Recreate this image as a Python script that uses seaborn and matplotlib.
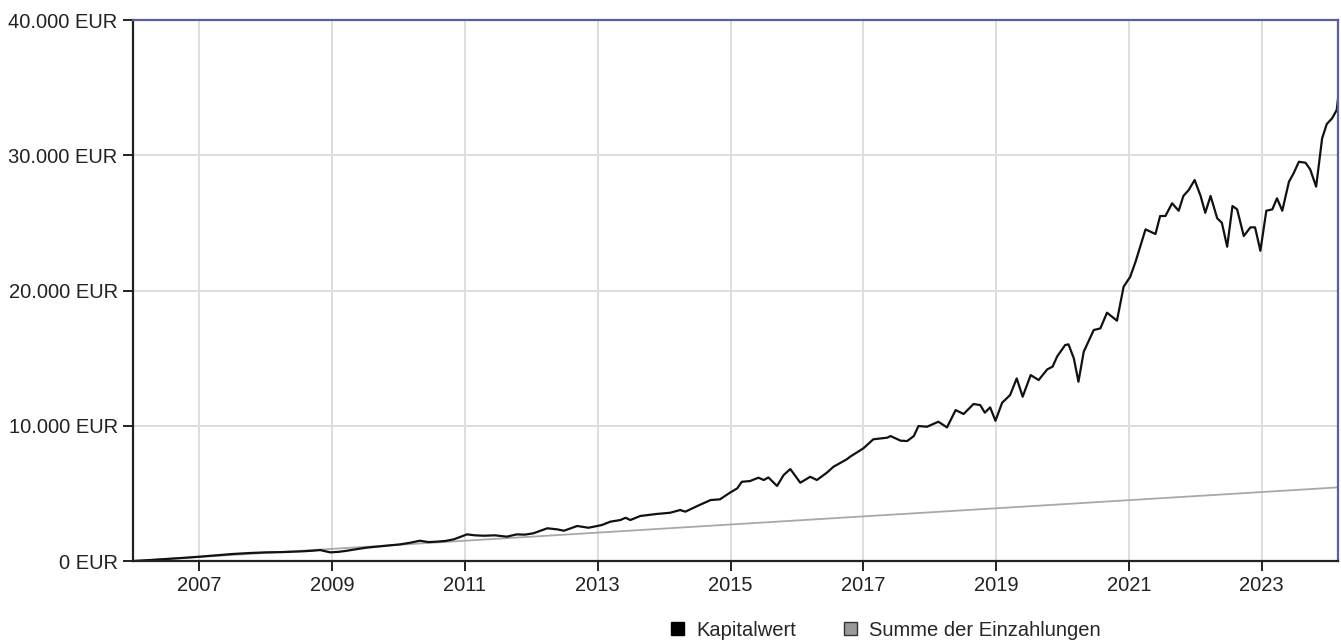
import matplotlib
matplotlib.use("Agg")
import matplotlib.pyplot as plt
from matplotlib.patches import Patch
import seaborn as sns
import pandas as pd

# Kapitalwert (decimal years / EUR)
kapital_years = [
    2006.00, 2006.25, 2006.50, 2006.75, 2007.00, 2007.25, 2007.50, 2007.75,
    2008.00, 2008.25, 2008.52, 2008.70, 2008.82, 2008.97, 2009.10, 2009.22,
    2009.37, 2009.52, 2009.75, 2010.02, 2010.15, 2010.32, 2010.45, 2010.57,
    2010.70, 2010.83, 2011.03, 2011.15, 2011.28, 2011.45, 2011.63, 2011.78,
    2011.90, 2012.03, 2012.24, 2012.39, 2012.49, 2012.69, 2012.86, 2013.06,
    2013.19, 2013.34, 2013.42, 2013.49, 2013.64, 2013.76, 2013.89, 2014.09,
    2014.24, 2014.32, 2014.50, 2014.70, 2014.84, 2014.99, 2015.10, 2015.17,
    2015.29, 2015.42, 2015.50, 2015.57, 2015.70, 2015.80, 2015.90, 2016.05,
    2016.20, 2016.30, 2016.45, 2016.55, 2016.75, 2016.80, 2017.00, 2017.15,
    2017.36, 2017.41, 2017.56, 2017.66, 2017.76, 2017.83, 2017.96, 2018.13,
    2018.26, 2018.39, 2018.51, 2018.66, 2018.76, 2018.83, 2018.91, 2018.99,
    2019.09, 2019.21, 2019.31, 2019.40, 2019.52, 2019.64, 2019.77, 2019.85,
    2019.92, 2020.04, 2020.09, 2020.17, 2020.24, 2020.32, 2020.47, 2020.57,
    2020.67, 2020.82, 2020.92, 2021.02, 2021.10, 2021.17, 2021.25, 2021.40,
    2021.47, 2021.55, 2021.65, 2021.75, 2021.82, 2021.90, 2021.99, 2022.08,
    2022.15, 2022.23, 2022.33, 2022.40, 2022.48, 2022.56, 2022.63, 2022.73,
    2022.83, 2022.90, 2022.98, 2023.07, 2023.16, 2023.23, 2023.31, 2023.41,
    2023.48, 2023.56, 2023.66, 2023.73, 2023.82, 2023.91, 2023.98, 2024.06,
    2024.13, 2024.15,
]
kapital_values = [
    0, 70, 150, 230, 320, 420, 520, 590,
    640, 660, 710, 760, 810, 640, 680, 760,
    880, 990, 1100, 1230, 1330, 1500, 1400, 1430,
    1480, 1600, 1970, 1900, 1870, 1900, 1800, 1970,
    1950, 2050, 2420, 2340, 2240, 2590, 2460, 2660,
    2910, 3030, 3200, 3030, 3330, 3400, 3480, 3570,
    3770, 3650, 4070, 4510, 4560, 5050, 5370, 5860,
    5910, 6160, 5990, 6180, 5550, 6360, 6800, 5790,
    6230, 5990, 6530, 6970, 7520, 7710, 8330, 9000,
    9120, 9240, 8900, 8870, 9240, 9980, 9930, 10300,
    9880, 11160, 10870, 11610, 11530, 10970, 11360, 10370,
    11700, 12270, 13500, 12150, 13750, 13380, 14170, 14370,
    15130, 15970, 16020, 14990, 13260, 15480, 17080, 17200,
    18360, 17770, 20280, 21020, 22130, 23240, 24520, 24180,
    25510, 25510, 26450, 25900, 26990, 27430, 28170, 26990,
    25750, 26990, 25340, 25010, 23240, 26250, 26000, 24030,
    24670, 24670, 22940, 25900, 26000, 26820, 25900, 28040,
    28660, 29520, 29450, 28960, 27680, 31250, 32310, 32730,
    33350, 34200,
]

# Summe der Einzahlungen
einzahl_years = [2006, 2007, 2008, 2009, 2010, 2011, 2012, 2013, 2014, 2015,
                 2016, 2017, 2018, 2019, 2020, 2021, 2022, 2023, 2024, 2024.15]
einzahl_values = [0, 300, 600, 900, 1200, 1500, 1800, 2100, 2400, 2700,
                  3000, 3300, 3600, 3900, 4200, 4500, 4800, 5100, 5400, 5450]

year_ticks = [2007, 2009, 2011, 2013, 2015, 2017, 2019, 2021, 2023]
value_ticks = [0, 10000, 20000, 30000, 40000]
value_labels = ["0 EUR", "10.000 EUR", "20.000 EUR", "30.000 EUR", "40.000 EUR"]

sns.set_theme(style="white")
plt.rcParams["font.family"] = ["Liberation Sans", "DejaVu Sans"]

kapital = pd.DataFrame({"jahr": kapital_years, "wert": kapital_values})
einzahl = pd.DataFrame({"jahr": einzahl_years, "wert": einzahl_values})

fig = plt.figure(figsize=(13.41, 6.4), dpi=100)
ax = fig.add_axes([0.0992, 0.1234, 0.8986, 0.8453])

sns.lineplot(data=einzahl, x="jahr", y="wert", ax=ax, color="#a8a8a8",
             linewidth=1.3, legend=False)
sns.lineplot(data=kapital, x="jahr", y="wert", ax=ax, color="#111111",
             linewidth=1.6, legend=False)

ax.set_xlim(2006.0, 2024.15)
ax.set_ylim(0, 40000)
ax.set_xticks(year_ticks)
ax.set_xticklabels([str(y) for y in year_ticks])
ax.set_yticks(value_ticks)
ax.set_yticklabels(value_labels)
ax.set_xlabel("")
ax.set_ylabel("")

ax.grid(True, color="#dddddd", linewidth=1.4)
ax.set_axisbelow(True)

for side in ["left", "bottom"]:
    ax.spines[side].set_color("#222222")
    ax.spines[side].set_linewidth(1.6)
for side in ["top", "right"]:
    ax.spines[side].set_color("#5a5f9c")
    ax.spines[side].set_linewidth(1.6)

ax.tick_params(axis="both", which="major", length=7, width=1.4,
               color="#222222", labelsize=14.5, labelcolor="#222222",
               bottom=True, left=True, pad=4)

handles = [
    Patch(facecolor="#000000", edgecolor="#000000", label="Kapitalwert"),
    Patch(facecolor="#999999", edgecolor="#333333", label="Summe der Einzahlungen"),
]
fig.legend(handles=handles, loc="center", bbox_to_anchor=(886 / 1341, 1 - 630 / 640),
           ncol=2, frameon=False, fontsize=14.5, handlelength=0.65,
           handleheight=0.65, handletextpad=0.6, columnspacing=2.4,
           borderaxespad=0, borderpad=0)

fig.savefig("out.png", dpi=100)
